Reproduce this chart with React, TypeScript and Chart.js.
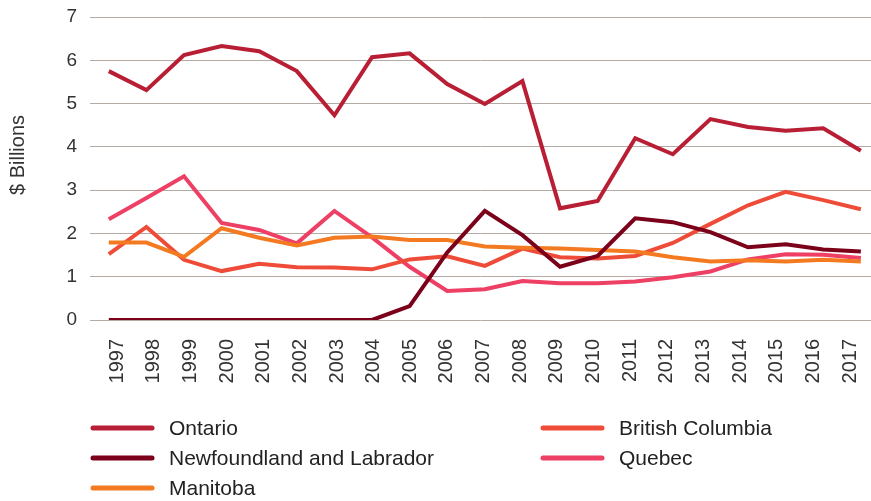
import React, { useEffect, useRef } from "react";
import { Chart, registerables } from "chart.js";

Chart.register(...registerables);

const years = [1997, 1998, 1999, 2000, 2001, 2002, 2003, 2004, 2005, 2006, 2007, 2008, 2009, 2010, 2011, 2012, 2013, 2014, 2015, 2016, 2017];

const ontario = [5.75, 5.31, 6.12, 6.33, 6.21, 5.75, 4.73, 6.07, 6.16, 5.45, 4.99, 5.52, 2.58, 2.75, 4.2, 3.83, 4.64, 4.46, 4.37, 4.43, 3.91];
const newfoundland = [0, 0, 0, 0, 0, 0, 0, 0, 0.32, 1.56, 2.52, 1.96, 1.23, 1.48, 2.35, 2.26, 2.03, 1.68, 1.75, 1.63, 1.58];
const manitoba = [1.79, 1.79, 1.46, 2.12, 1.9, 1.72, 1.9, 1.93, 1.85, 1.85, 1.7, 1.67, 1.65, 1.62, 1.58, 1.45, 1.35, 1.38, 1.35, 1.39, 1.35];
const britishColumbia = [1.52, 2.15, 1.39, 1.13, 1.3, 1.22, 1.21, 1.17, 1.4, 1.47, 1.25, 1.65, 1.45, 1.42, 1.48, 1.78, 2.22, 2.65, 2.96, 2.77, 2.56];
const quebec = [2.33, 2.82, 3.32, 2.24, 2.08, 1.77, 2.52, 1.91, 1.23, 0.67, 0.71, 0.9, 0.85, 0.85, 0.89, 0.99, 1.12, 1.4, 1.52, 1.51, 1.43];

const seriesNames = ["Ontario", "Newfoundland and Labrador", "Manitoba", "British Columbia", "Quebec"];
const seriesValues = [ontario, newfoundland, manitoba, britishColumbia, quebec];
const seriesColors = ["#b81e34", "#7b0019", "#f47a21", "#ef4b39", "#ee3f64"];
const yAxisTitle = "$ Billions";

const FONT = "'Liberation Sans', Arial, sans-serif";

const gridLegend = {
  id: "gridLegend",
  afterDraw(chart: any) {
    const ctx = chart.ctx;
    const slots = [
      [93, 428], [93, 458], [93, 488], [543, 428], [543, 458],
    ];
    ctx.save();
    chart.data.datasets.forEach((ds: any, i: number) => {
      const [x, y] = slots[i];
      ctx.strokeStyle = ds.borderColor;
      ctx.lineWidth = 5;
      ctx.lineCap = "round";
      ctx.beginPath();
      ctx.moveTo(x, y);
      ctx.lineTo(x + 59, y);
      ctx.stroke();
      ctx.fillStyle = "#222222";
      ctx.font = `21px ${FONT}`;
      ctx.textBaseline = "middle";
      ctx.textAlign = "left";
      ctx.fillText(ds.label, x + 76, y + 1);
    });
    // y axis title
    ctx.translate(18, 155);
    ctx.rotate(-Math.PI / 2);
    ctx.fillStyle = "#333333";
    ctx.font = `20px ${FONT}`;
    ctx.textAlign = "center";
    ctx.textBaseline = "middle";
    ctx.fillText(yAxisTitle, 0, 0);
    ctx.restore();
  },
};

export default function App() {
  const canvasRef = useRef<HTMLCanvasElement | null>(null);

  useEffect(() => {
    if (!canvasRef.current) return;
    const chart = new Chart(canvasRef.current, {
      type: "line",
      data: {
        datasets: seriesNames.map((name, i) => ({
          label: name,
          data: years.map((yr, j) => ({ x: yr, y: seriesValues[i][j] })),
          borderColor: seriesColors[i],
          backgroundColor: seriesColors[i],
          borderWidth: 4,
          pointRadius: 0,
          tension: 0,
          borderJoinStyle: "miter" as const,
          xAxisID: "x",
        })),
      },
      options: {
        animation: false,
        responsive: true,
        maintainAspectRatio: false,
        layout: { padding: { top: 17, right: 0, bottom: 86, left: 0 } },
        plugins: {
          legend: { display: false },
          tooltip: { enabled: false },
        },
        scales: {
          x: {
            type: "linear",
            min: 1996.5,
            max: 2017.27,
            display: false,
          },
          xLabels: {
            type: "linear",
            position: "bottom",
            min: 1996.26,
            max: 2017.57,
            grid: { display: false },
            border: { display: false },
            afterFit: (scale: any) => {
              scale.height = 95;
              scale.paddingLeft = 0;
              scale.paddingRight = 0;
            },
            afterBuildTicks: (scale: any) => {
              scale.ticks = years.map((yr) => ({ value: yr }));
            },
            ticks: {
              autoSkip: false,
              minRotation: 90,
              maxRotation: 90,
              padding: 11,
              color: "#333333",
              font: { family: FONT, size: 20 },
              callback: (v: any) => String(v),
            },
          },
          y: {
            min: 0,
            max: 7,
            afterFit: (scale: any) => {
              scale.width = 90;
              scale.paddingTop = 0;
              scale.paddingBottom = 0;
            },
            grid: { color: "#b3aba4", lineWidth: 1, drawTicks: false },
            border: { display: false },
            ticks: {
              stepSize: 1,
              padding: 13,
              color: "#333333",
              font: { family: FONT, size: 19 },
            },
          },
        },
      },
      plugins: [gridLegend],
    });
    return () => chart.destroy();
  }, []);

  return (
    <div style={{ position: "absolute", left: 0, top: 0, width: 871, height: 501 }}>
      <canvas ref={canvasRef} />
    </div>
  );
}
